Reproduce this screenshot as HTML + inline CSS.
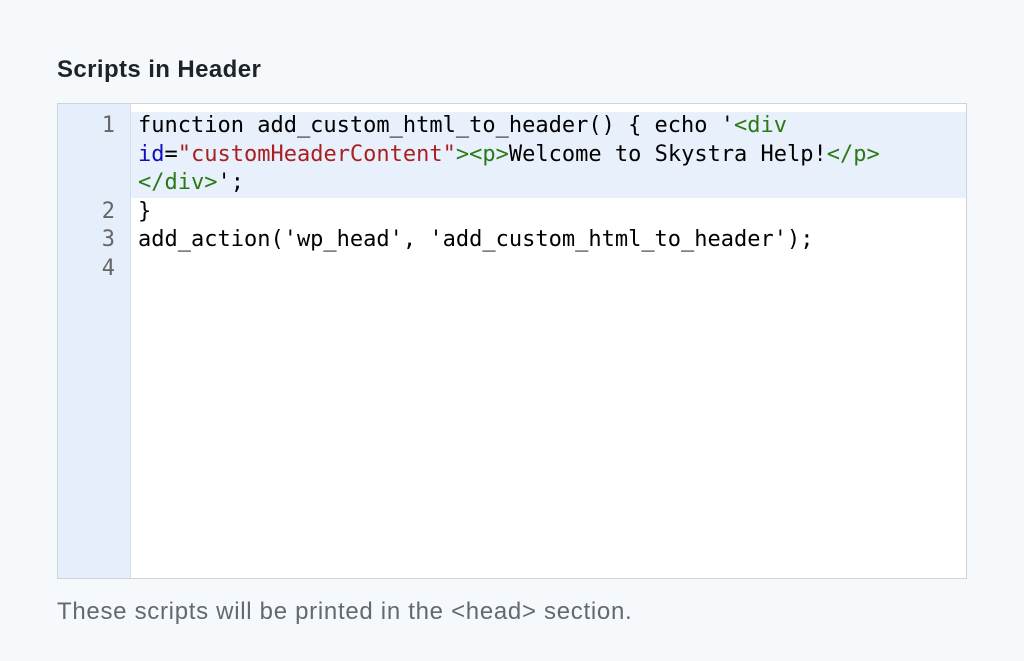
<!DOCTYPE html>
<html><head><style>
body{margin:0;width:1024px;height:661px;background:#f6f9fc;font-family:"Liberation Sans",sans-serif;position:relative;overflow:hidden}
.t{position:absolute;left:57px;top:56px;font-size:24px;letter-spacing:0.4px;font-weight:bold;color:#1d2327}
.box{position:absolute;left:57px;top:103px;width:908px;height:474px;border:1px solid #d0d4d8;background:#fff}
.gut{position:absolute;left:0;top:0;width:72px;height:100%;background:#e5effb;border-right:1px solid #d5dde6}
.hl{position:absolute;left:73px;top:8px;right:0;height:86px;background:#e8f0fc}
.code{position:absolute;left:0;top:8px;font-family:"DejaVu Sans Mono",monospace;font-size:22px;line-height:28.6px;color:#000}
.n{position:absolute;left:0;width:57px;text-align:right;color:#666}
.l{position:absolute;left:80px;white-space:pre}
.g{color:#2a7a18}.b{color:#1010c0}.r{color:#a82020}
.f{position:absolute;left:57px;top:598px;font-size:24px;letter-spacing:0.7px;color:#646970}
</style></head><body>
<div class="t">Scripts in Header</div>
<div class="box"><div class="gut"></div><div class="hl"></div>
<div class="code">
<div class="n" style="top:0">1</div>
<div class="n" style="top:85.8px">2</div>
<div class="n" style="top:114.4px">3</div>
<div class="n" style="top:143px">4</div>
<div class="l" style="top:0">function add_custom_html_to_header() { echo '<span class="g">&lt;div</span></div>
<div class="l" style="top:28.6px"><span class="b">id</span>=<span class="r">"customHeaderContent"</span><span class="g">&gt;&lt;p&gt;</span>Welcome to Skystra Help!<span class="g">&lt;/p&gt;</span></div>
<div class="l" style="top:57.2px"><span class="g">&lt;/div&gt;</span>';</div>
<div class="l" style="top:85.8px">}</div>
<div class="l" style="top:114.4px">add_action('wp_head', 'add_custom_html_to_header');</div>
</div></div>
<div class="f">These scripts will be printed in the &lt;head&gt; section.</div>
</body></html>
